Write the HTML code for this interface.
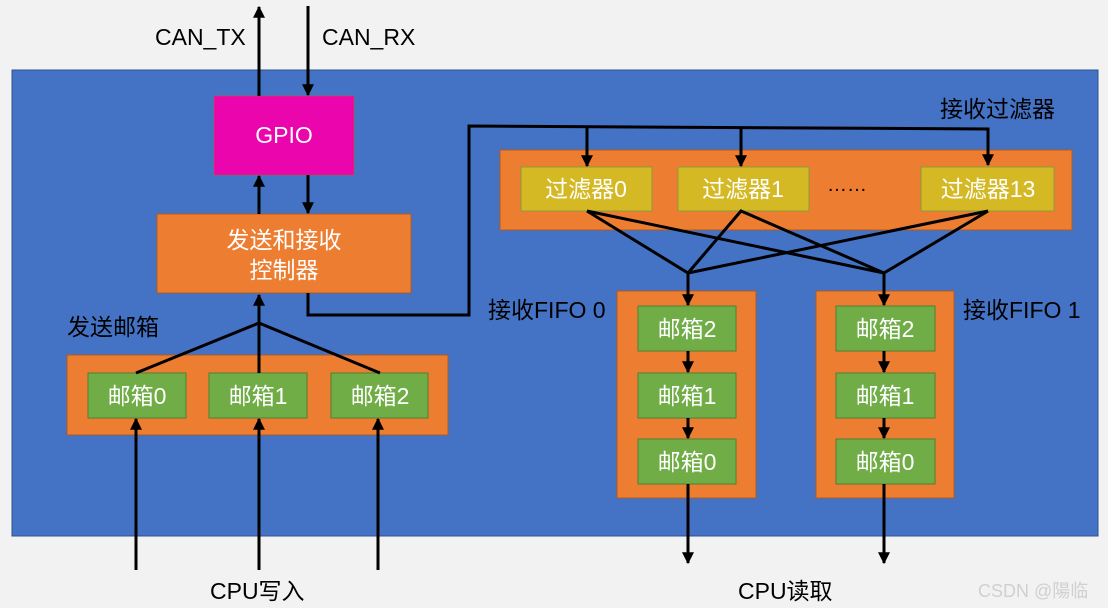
<!DOCTYPE html>
<html><head><meta charset="utf-8"><style>
html,body{margin:0;padding:0;background:#f2f2f2;}
svg{display:block;}
text{font-family:"Liberation Sans","Noto Sans CJK SC",sans-serif;}
</style></head><body>
<svg width="1108" height="608" viewBox="0 0 1108 608" xmlns="http://www.w3.org/2000/svg">
<defs>
<marker id="a" viewBox="0 0 10 10" refX="9" refY="5" markerWidth="4" markerHeight="4" orient="auto-start-reverse" markerUnits="strokeWidth"><path d="M0,0 L10,5 L0,10 z" fill="#000"/></marker>
</defs>
<rect width="1108" height="608" fill="#f2f2f2"/>
<rect x="12" y="70" width="1086" height="466" fill="#4472c4" stroke="#2f528f" stroke-width="1"/>

<!-- GPIO & controller -->
<rect x="214" y="96" width="140" height="79" fill="#ea05ac" stroke="#c55a11" stroke-width="0.5"/>
<text x="284" y="143" font-size="23" fill="#fff" text-anchor="middle">GPIO</text>
<rect x="157" y="214" width="254" height="79" fill="#ed7d31" stroke="#ae5a21" stroke-width="1"/>
<text x="284" y="248" font-size="23" fill="#fff" text-anchor="middle">发送和接收</text>
<text x="284" y="278" font-size="23" fill="#fff" text-anchor="middle">控制器</text>

<!-- filters -->
<text x="940" y="117" font-size="23" fill="#000">接收过滤器</text>
<rect x="500" y="150" width="572" height="80" fill="#ed7d31" stroke="#ae5a21" stroke-width="1"/>
<rect x="521" y="167" width="131" height="44" fill="#d4b925" stroke="#8a9a3a" stroke-width="1"/>
<rect x="678" y="167" width="131" height="44" fill="#d4b925" stroke="#8a9a3a" stroke-width="1"/>
<rect x="921" y="167" width="133" height="44" fill="#d4b925" stroke="#8a9a3a" stroke-width="1"/>
<text x="586" y="197" font-size="23" fill="#fff" text-anchor="middle">过滤器0</text>
<text x="743" y="197" font-size="23" fill="#fff" text-anchor="middle">过滤器1</text>
<text x="988" y="197" font-size="23" fill="#fff" text-anchor="middle">过滤器13</text>
<text x="847" y="191" font-size="20" fill="#000" text-anchor="middle">……</text>

<g stroke="#000" stroke-width="3" fill="none">
<line x1="259" y1="96" x2="259" y2="7" marker-end="url(#a)"/>
<line x1="308" y1="6" x2="308" y2="95" marker-end="url(#a)"/>
<line x1="259" y1="214" x2="259" y2="176" marker-end="url(#a)"/>
<line x1="308" y1="175" x2="308" y2="213" marker-end="url(#a)"/>
<polyline points="308,293 308,315 469,315 469,126 988,129 988,165" marker-end="url(#a)"/>
<line x1="587" y1="127" x2="587" y2="166" marker-end="url(#a)"/>
<line x1="741" y1="128" x2="741" y2="166" marker-end="url(#a)"/>
</g>
<text x="155" y="45" font-size="23" fill="#000">CAN_TX</text>
<text x="322" y="45" font-size="23" fill="#000">CAN_RX</text>

<g stroke="#000" stroke-width="3" fill="none">
<polyline points="587,211 688,273 988,211"/>
<polyline points="587,211 884,273 741,211 688,273"/>
<line x1="988" y1="211" x2="884" y2="273"/>
</g>

<!-- FIFOs -->
<text x="488" y="318" font-size="23" fill="#000">接收FIFO 0</text>
<text x="963" y="318" font-size="23" fill="#000">接收FIFO 1</text>
<rect x="617" y="291" width="139" height="207" fill="#ed7d31" stroke="#ae5a21" stroke-width="1"/>
<rect x="816" y="291" width="138" height="207" fill="#ed7d31" stroke="#ae5a21" stroke-width="1"/>
<g fill="#70ad47" stroke="#507e32" stroke-width="1">
<rect x="638" y="306" width="98" height="45"/><rect x="638" y="373" width="98" height="45"/><rect x="638" y="439" width="98" height="45"/>
<rect x="836" y="306" width="99" height="45"/><rect x="836" y="373" width="99" height="45"/><rect x="836" y="439" width="99" height="45"/>
</g>
<g font-size="23" fill="#fff" text-anchor="middle">
<text x="687" y="337">邮箱2</text><text x="687" y="404">邮箱1</text><text x="687" y="470">邮箱0</text>
<text x="885" y="337">邮箱2</text><text x="885" y="404">邮箱1</text><text x="885" y="470">邮箱0</text>
</g>
<g stroke="#000" stroke-width="3" fill="none">
<line x1="688" y1="273" x2="688" y2="305" marker-end="url(#a)"/>
<line x1="884" y1="273" x2="884" y2="305" marker-end="url(#a)"/>
<line x1="688" y1="351" x2="688" y2="372" marker-end="url(#a)"/>
<line x1="688" y1="418" x2="688" y2="438" marker-end="url(#a)"/>
<line x1="884" y1="351" x2="884" y2="372" marker-end="url(#a)"/>
<line x1="884" y1="418" x2="884" y2="438" marker-end="url(#a)"/>
<line x1="688" y1="484" x2="688" y2="563" marker-end="url(#a)"/>
<line x1="884" y1="484" x2="884" y2="563" marker-end="url(#a)"/>
</g>
<text x="738" y="599" font-size="23" fill="#000">CPU读取</text>

<!-- send mailboxes -->
<text x="67" y="335" font-size="23" fill="#000">发送邮箱</text>
<rect x="67" y="355" width="381" height="80" fill="#ed7d31" stroke="#ae5a21" stroke-width="1"/>
<g fill="#70ad47" stroke="#507e32" stroke-width="1">
<rect x="88" y="373" width="98" height="45"/><rect x="209" y="373" width="98" height="45"/><rect x="331" y="373" width="97" height="45"/>
</g>
<g font-size="23" fill="#fff" text-anchor="middle">
<text x="137" y="404">邮箱0</text><text x="258" y="404">邮箱1</text><text x="380" y="404">邮箱2</text>
</g>
<g stroke="#000" stroke-width="3" fill="none">
<polyline points="136,373 259,323 380,373"/>
<line x1="259" y1="373" x2="259" y2="295" marker-end="url(#a)"/>
<line x1="136" y1="570" x2="136" y2="419" marker-end="url(#a)"/>
<line x1="259" y1="570" x2="259" y2="419" marker-end="url(#a)"/>
<line x1="378" y1="570" x2="378" y2="419" marker-end="url(#a)"/>
</g>
<text x="210" y="599" font-size="23" fill="#000">CPU写入</text>

<text x="978" y="597" font-size="18" fill="#d0d0d0">CSDN @陽临</text>
</svg>
</body></html>
